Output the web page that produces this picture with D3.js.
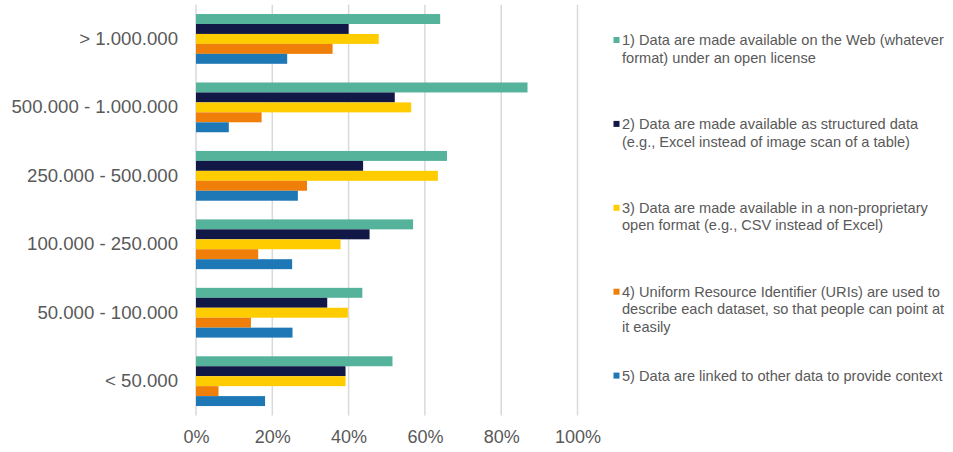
<!DOCTYPE html>
<html>
<head>
<meta charset="utf-8">
<script src="https://cdn.jsdelivr.net/npm/d3@7"></script>
<style>
  body { margin: 0; background: #fff; }
  text { font-family: "Liberation Sans", Arial, sans-serif; fill: #595959; }
</style>
</head>
<body>
<svg id="chart" width="953" height="452"></svg>
<script>
// categories, top to bottom
const categories = ["> 1.000.000", "500.000 - 1.000.000", "250.000 - 500.000",
                    "100.000 - 250.000", "50.000 - 100.000", "< 50.000"];

const seriesKeys = ["s1", "s2", "s3", "s4", "s5"];
const seriesColors = ["#55b39b", "#111845", "#ffcc00", "#f07f09", "#1f78b6"];

// values per series, same order as categories (share of respondents)
const s1 = [0.640, 0.869, 0.658, 0.569, 0.436, 0.515];
const s2 = [0.400, 0.521, 0.438, 0.455, 0.344, 0.392];
const s3 = [0.479, 0.564, 0.634, 0.379, 0.398, 0.392];
const s4 = [0.358, 0.172, 0.291, 0.163, 0.144, 0.059];
const s5 = [0.239, 0.086, 0.267, 0.252, 0.253, 0.181];
const seriesValues = [s1, s2, s3, s4, s5];

const xTicks = [0, 0.2, 0.4, 0.6, 0.8, 1.0];

const legendLines = [
  ["1) Data are made available on the Web (whatever", "format) under an open license"],
  ["2) Data are made available as structured data", "(e.g., Excel instead of image scan of a table)"],
  ["3) Data are made available in a non-proprietary", "open format (e.g., CSV instead of Excel)"],
  ["4) Uniform Resource Identifier (URIs) are used to", "describe each dataset, so that people can point at", "it easily"],
  ["5) Data are linked to other data to provide context"]
];

const svg = d3.select("#chart");

const x = d3.scaleLinear().domain([0, 1]).range([196, 577.5]);
const y = d3.scaleBand().domain(categories).range([4.7, 415.4])
  .paddingInner(0.273).paddingOuter(0.1365);
const ySub = d3.scaleBand().domain(seriesKeys).range([0, y.bandwidth()]);

// gridlines
svg.append("g")
  .selectAll("line")
  .data(xTicks)
  .join("line")
  .attr("x1", d => x(d)).attr("x2", d => x(d))
  .attr("y1", 4.7).attr("y2", 415.4)
  .attr("stroke", "#d9d9d9")
  .attr("stroke-width", 1.5);

// bars
const rows = categories.map((c, i) => ({ cat: c, vals: seriesValues.map(s => s[i]) }));
svg.append("g")
  .selectAll("g")
  .data(rows)
  .join("g")
  .attr("transform", d => `translate(0,${y(d.cat)})`)
  .each(function(r) {
    d3.select(this)
      .selectAll("rect")
      .data(r.vals)
      .join("rect")
      .attr("x", x(0))
      .attr("y", (d, i) => ySub(seriesKeys[i]))
      .attr("width", d => x(d) - x(0))
      .attr("height", ySub.bandwidth())
      .attr("fill", (d, i) => seriesColors[i]);
  });

// x axis labels
const xAxis = svg.append("g")
  .attr("transform", "translate(0,415.4)")
  .call(d3.axisBottom(x).tickValues(xTicks).tickFormat(d3.format(".0%")).tickSize(0).tickPadding(15));
xAxis.select(".domain").remove();
xAxis.selectAll("text").style("font-size", "18px").attr("fill", "#595959")
  .style("font-family", "'Liberation Sans', Arial, sans-serif");

// y axis labels
const yAxis = svg.append("g")
  .attr("transform", "translate(178,0)")
  .call(d3.axisLeft(y).tickSize(0).tickPadding(0));
yAxis.select(".domain").remove();
yAxis.selectAll("text").style("font-size", "18.6px").attr("fill", "#595959")
  .style("font-family", "'Liberation Sans', Arial, sans-serif");

// legend
const legend = svg.append("g");
legendLines.forEach((lines, i) => {
  const top = 40 + i * 83.9;
  legend.append("rect")
    .attr("x", 613.5).attr("y", top - 3)
    .attr("width", 6).attr("height", 6)
    .attr("fill", seriesColors[i]);
  const t = legend.append("text")
    .attr("x", 622)
    .attr("y", top)
    .attr("dominant-baseline", "central")
    .style("font-size", "14.6px");
  lines.forEach((ln, j) => {
    t.append("tspan").attr("x", 622).attr("y", top + j * 17.6)
      .attr("dominant-baseline", "central").text(ln);
  });
});
</script>
</body>
</html>
